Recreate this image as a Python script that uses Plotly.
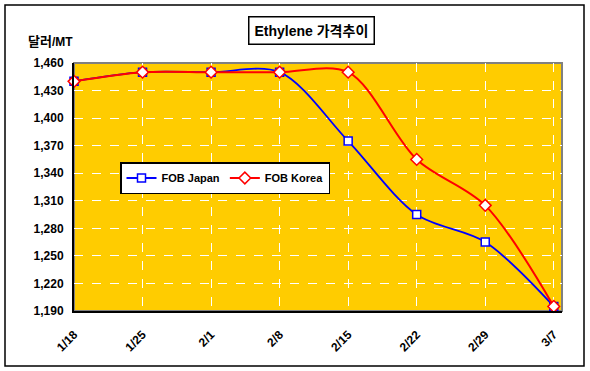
import plotly.graph_objects as go

categories = ["1/18", "1/25", "2/1", "2/8", "2/15", "2/22", "2/29", "3/7"]
fob_japan = [1440, 1450, 1450, 1450, 1375, 1295, 1265, 1195]
fob_korea = [1440, 1450, 1450, 1450, 1450, 1355, 1305, 1195]
y_ticks = [1190, 1220, 1250, 1280, 1310, 1340, 1370, 1400, 1430, 1460]

W, H = 590, 371
L, R, T, B = 74, 562, 63, 311
pw, ph = R - L, B - T

def px(x):
    return (x - L) / pw

def py(y):
    return (B - y) / ph

xi = list(range(len(categories)))
FONT = "Arial, Liberation Sans, sans-serif"

fig = go.Figure()
fig.add_trace(go.Scatter(
    x=xi, y=fob_japan, name="FOB Japan", mode="lines+markers",
    line=dict(color="#0000FF", width=1.8, shape="spline", smoothing=0.9),
    marker=dict(symbol="square", size=8, color="white", line=dict(color="#0000FF", width=1.5)),
    cliponaxis=False,
))
fig.add_trace(go.Scatter(
    x=xi, y=fob_korea, name="FOB Korea", mode="lines+markers",
    line=dict(color="#FF0000", width=2, shape="spline", smoothing=0.9),
    marker=dict(symbol="diamond", size=9, color="white", line=dict(color="#FF0000", width=1.5)),
    cliponaxis=False,
))

fig.update_layout(
    width=W, height=H,
    margin=dict(l=L, r=W - R, t=T, b=H - B, autoexpand=False),
    paper_bgcolor="white",
    plot_bgcolor="#FFCC00",
    showlegend=True,
    legend=dict(
        x=px(120), y=py(162), xanchor="left", yanchor="top",
        orientation="h", bgcolor="white", bordercolor="black", borderwidth=1.5,
        font=dict(family=FONT, size=11, color="black", weight="bold"),
        itemwidth=30, tracegroupgap=0,
    ),
    font=dict(family=FONT, color="black"),
)
fig.update_xaxes(
    range=[0, 7.12], tickvals=xi, ticktext=categories, tickangle=-45,
    showgrid=True, gridcolor="white", griddash="dash", gridwidth=1,
    showline=True, linecolor="black", linewidth=2, zeroline=False,
    ticks="", automargin=False, ticklabelstandoff=10,
    tickfont=dict(family=FONT, size=12, color="black", weight="bold"),
)
fig.update_yaxes(
    range=[1190, 1460], tickvals=y_ticks, ticktext=[f"{v:,}" for v in y_ticks],
    showgrid=True, gridcolor="white", griddash="dash", gridwidth=1,
    showline=True, linecolor="black", linewidth=2, zeroline=False,
    ticks="", automargin=False, ticklabelstandoff=6,
    tickfont=dict(family=FONT, size=12, color="black", weight="bold"),
)

# plot-area border (gray top/right)
fig.add_shape(type="rect", xref="paper", yref="paper", x0=0, x1=1, y0=0, y1=1,
              line=dict(color="#808080", width=2), layer="below")
# outer chart frame
fig.add_shape(type="rect", xref="paper", yref="paper",
              x0=px(5), x1=px(584), y0=py(366), y1=py(5),
              line=dict(color="black", width=1.5))

# title box
fig.add_annotation(
    xref="paper", yref="paper", x=px(311), y=py(30), xanchor="center", yanchor="middle",
    text="<b>Ethylene 가격추이</b>", showarrow=False,
    font=dict(family="Arial, Noto Sans CJK KR, sans-serif", size=14, color="black"),
    bgcolor="white", bordercolor="black", borderwidth=1.5, borderpad=5,
)
# y-axis unit label
fig.add_annotation(
    xref="paper", yref="paper", x=px(26), y=py(42), xanchor="left", yanchor="middle",
    text="<b><span style='font-size:13px'>달러</span>/MT</b>", showarrow=False,
    font=dict(family="Arial, Noto Sans CJK KR, sans-serif", size=12, color="black"),
)

fig.write_html(
    "out.html",
    config={"displayModeBar": False},
    post_script="document.body.style.margin='0';document.body.style.overflow='hidden';",
)
